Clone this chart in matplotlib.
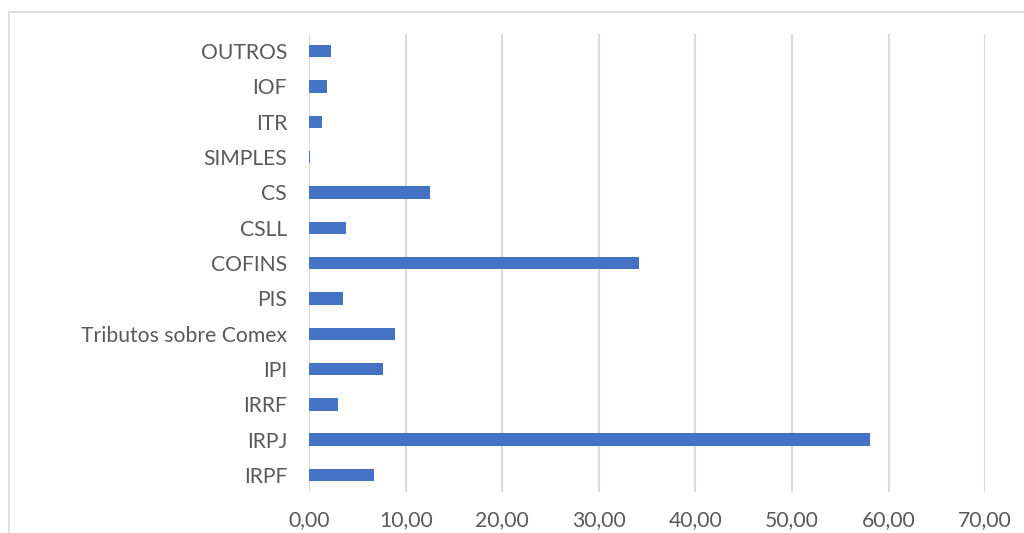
import matplotlib.pyplot as plt
from matplotlib.patches import Rectangle
from matplotlib.ticker import FuncFormatter

categorias = ['IRPF', 'IRPJ', 'IRRF', 'IPI', 'Tributos sobre Comex', 'PIS',
              'COFINS', 'CSLL', 'CS', 'SIMPLES', 'ITR', 'IOF', 'OUTROS']
valores = [6.7, 58.1, 3.0, 7.6, 8.9, 3.5, 34.2, 3.8, 12.5, 0.1, 1.35, 1.8, 2.3]
xticks = [0, 10, 20, 30, 40, 50, 60, 70]

cinza = '#595959'
azul = '#4472C4'

fig = plt.figure(figsize=(10.24, 5.33), dpi=100)
ax = fig.add_axes([0.302, 0.077, 0.66, 0.859])

ax.barh(range(len(categorias)), valores, height=0.35, color=azul, zorder=3)

ax.set_xlim(0, 70)
ax.set_ylim(-0.48, len(categorias) - 0.52)
ax.set_xticks(xticks)
ax.xaxis.set_major_formatter(FuncFormatter(lambda v, p: f'{v:.2f}'.replace('.', ',')))
ax.set_yticks(range(len(categorias)))
ax.set_yticklabels(categorias)

ax.grid(axis='x', color='#d9d9d9', linewidth=1.5, zorder=0)
for s in ax.spines.values():
    s.set_visible(False)
ax.tick_params(axis='both', length=0, labelcolor=cinza, labelsize=15.2)
ax.tick_params(axis='x', pad=13)
ax.tick_params(axis='y', pad=16)
for lbl in ax.get_xticklabels() + ax.get_yticklabels():
    lbl.set_family('Lato')

# moldura do gráfico
fig.patches.append(Rectangle((9 / 1024, -0.1), 1.2, 1.1 - 12 / 533,
                             transform=fig.transFigure, fill=False,
                             edgecolor='#d9d9d9', linewidth=1.2))

fig.savefig('out.png', dpi=100)
